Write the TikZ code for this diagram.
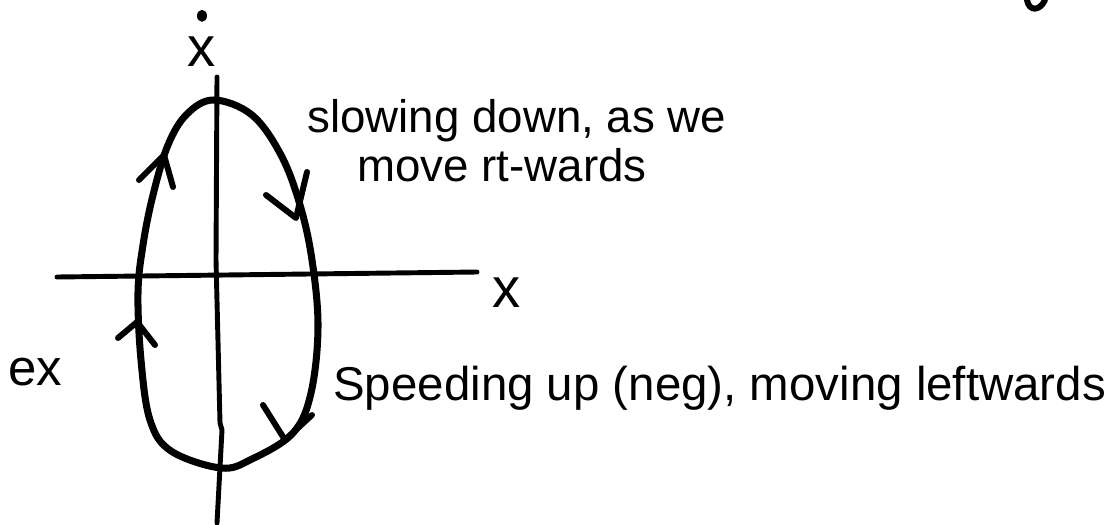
\documentclass[tikz,border=0pt]{standalone}
\usepackage{fontspec}
\setmainfont{Liberation Sans}
\usepackage{tikz}

\begin{document}
\begin{tikzpicture}[
  x=0.02cm, y=-0.02cm,
  line cap=round, line join=round,
  axis/.style={line width=2.8pt},
  orbit/.style={line width=4pt},
  chev/.style={line width=3.4pt},
  note/.style={font=\fontsize{26}{30}\selectfont, inner sep=0pt, anchor=base west},
  var/.style={font=\fontsize{32}{34}\selectfont, inner sep=0pt}
]
  \useasboundingbox (0,0) rectangle (1111,524);

  % Axes
  \draw[axis] (57,277) -- (477,272);
  \draw[axis] (217,77) -- (216,260) -- (220,423) -- (222,430) -- (217,523);
  \node[var] (xlab) at (507,293) {x};
  \node[var] (xdot) at (202,52) {x};
  \fill ([yshift=0.42cm]xdot.north) circle[x radius=0.1cm, y radius=0.12cm];

  % Closed orbit
  \draw[orbit] plot[smooth cycle, tension=0.6] coordinates {
    (214,100) (252,115) (281,155) (300,205) (312,260) (318,327) (311,393)
    (293,433) (252,459) (221,468) (171,451) (150,420) (141,360) (138,293)
    (143,245) (153,195) (168,145) (187,114)};

  % Direction marks
  \draw[chev] (139,180) -- (164,155) -- (173,187);
  \draw[chev] (266,195) -- (296,218) -- (307,172);
  \draw[chev] (118,338) -- (137,322) -- (155,345);
  \draw[chev] (263,405) -- (285,440) -- (312,415);

  % Notes
  \node[note] (slow1) at (307,132) {slowing down, as we};
  \node[note] (slow2) at (357,181) {move rt-wards};
  \node[note, font=\fontsize{27}{30}\selectfont] (speed) at (333,400) {Speeding up (neg), moving leftwards};
  \node[note, font=\fontsize{29}{32}\selectfont] (ex) at (8,385) {ex};

  % stroke cut off at top edge
  \draw[chev] (1027,0) .. controls (1029,12) and (1040,11) .. (1045,0);
\end{tikzpicture}
\end{document}
